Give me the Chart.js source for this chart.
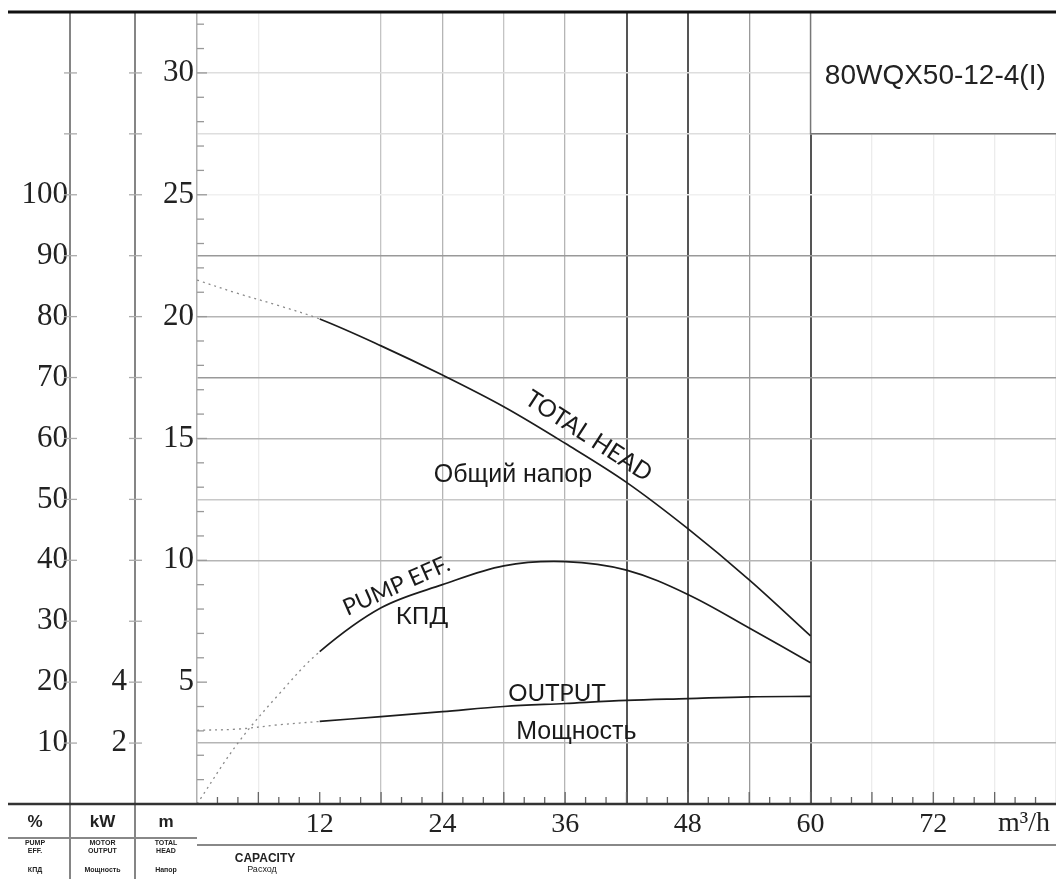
<!DOCTYPE html>
<html lang="ru">
<head>
    <meta charset="UTF-8">
    <title>80WQX50-12-4(I)</title>
    <style>
        body {
            margin: 0;
            padding: 0;
            background: #fff;
            overflow: hidden;
        }

        #wrap {
            width: 1056px;
            height: 879px;
        }
    </style>
</head>
<body>
    <div id="wrap"><canvas id="pumpChart" width="1056" height="879"></canvas></div>

    <script src="https://cdn.jsdelivr.net/npm/chart.js"></script>
    <script>
        // capacity, m3/h
        const flow = [0, 4, 8, 12, 18, 24, 30, 36, 42, 48, 54, 60];
        // total head, m
        const headM = [21.5, 20.95, 20.45, 19.9, 18.8, 17.6, 16.3, 14.8, 13.2, 11.3, 9.2, 6.9];
        // pump efficiency, %
        const effPct = [0, 10, 18, 25, 32.2, 36, 39.1, 39.8, 38.4, 34.4, 28.9, 23.2];
        // motor output, kW
        const powerKw = [2.42, 2.46, 2.6, 2.71, 2.87, 3.03, 3.2, 3.3, 3.4, 3.46, 3.52, 3.53];

        // tick labels that are printed
        const flowTicks = [12, 24, 36, 48, 60, 72];
        const headTicks = [5, 10, 15, 20, 25, 30];
        const effTicks = [10, 20, 30, 40, 50, 60, 70, 80, 90, 100];
        const kwTicks = [2, 4];

        const modelName = '80WQX50-12-4(I)';

        // curve captions (placed in flow / head units)
        const captions = [
            { text: 'TOTAL HEAD', q: 38.3, h: 15.1, rot: 33, font: '24px Lato' },
            { text: 'Общий напор', q: 30.9, h: 13.5, rot: 0, font: '25px "Liberation Sans"' },
            { text: 'PUMP EFF.', q: 19.5, h: 8.95, rot: -24, font: '23px Lato' },
            { text: 'КПД', q: 22, h: 7.7, rot: 0, font: '24px Lato' },
            { text: 'OUTPUT', q: 35.2, h: 4.55, rot: 0, font: '24px Lato' },
            { text: 'Мощность', q: 37.1, h: 2.95, rot: 0, font: '25px "Liberation Sans"' }
        ];

        const serif = 'Liberation Serif';
        const dottedUpTo = 12;

        function points(values) {
            return flow.map((q, i) => ({ x: q, y: values[i] }));
        }

        function curve(label, values, axis) {
            return {
                label: label,
                data: points(values),
                yAxisID: axis,
                borderColor: '#1c1c1c',
                borderWidth: 1.7,
                pointRadius: 0,
                tension: 0.35,
                segment: {
                    borderDash: c => c.p1.parsed.x <= dottedUpTo ? [2, 4] : undefined,
                    borderColor: c => c.p1.parsed.x <= dottedUpTo ? '#8a8a8a' : undefined,
                    borderWidth: c => c.p1.parsed.x <= dottedUpTo ? 1.3 : undefined
                }
            };
        }

        // grid shades read from the sheet
        function xGridColor(v) {
            if (v === 42 || v === 48 || v === 60) return '#555';
            if (v === 54) return '#999';
            if (v === 24 || v === 36) return '#b5b5b5';
            if (v === 18 || v === 30) return '#c4c4c4';
            if (v === 6 || v >= 66) return '#ececec';
            return 'rgba(0,0,0,0)';
        }

        function yGridColor(v) {
            if (v === 22.5 || v === 17.5) return '#999';
            if (v === 20 || v === 15 || v === 10 || v === 2.5) return '#b5b5b5';
            if (v === 12.5) return '#c8c8c8';
            if (v === 30 || v === 27.5) return '#dedede';
            if (v === 25) return '#f0f0f0';
            return 'rgba(0,0,0,0)';
        }

        function fixWidth(w) {
            return scale => {
                scale.width = w;
                scale.paddingTop = 0;
                scale.paddingBottom = 0;
            };
        }

        const sheetPlugin = {
            id: 'sheet',
            beforeDatasetsDraw(chart) {
                const { ctx, chartArea: a, scales } = chart;
                const x = scales.x, y = scales.yHead;
                // model box in the top right corner
                const left = x.getPixelForValue(60);
                const bottom = y.getPixelForValue(27.5);
                ctx.save();
                ctx.fillStyle = '#fff';
                ctx.fillRect(left, a.top, a.right - left, bottom - a.top);
                ctx.strokeStyle = '#777';
                ctx.lineWidth = 1.5;
                ctx.beginPath();
                ctx.moveTo(left, a.top);
                ctx.lineTo(left, bottom);
                ctx.lineTo(a.right, bottom);
                ctx.stroke();
                ctx.fillStyle = '#222';
                ctx.font = '28px "Liberation Sans"';
                ctx.textAlign = 'center';
                ctx.textBaseline = 'middle';
                ctx.fillText(modelName, (left + a.right) / 2 + 2, (a.top + bottom) / 2 + 3);
                ctx.restore();
            },
            afterDatasetsDraw(chart) {
                const { ctx, scales } = chart;
                ctx.save();
                ctx.fillStyle = '#1a1a1a';
                ctx.textAlign = 'center';
                ctx.textBaseline = 'middle';
                captions.forEach(c => {
                    ctx.save();
                    ctx.translate(scales.x.getPixelForValue(c.q), scales.yHead.getPixelForValue(c.h));
                    ctx.rotate(c.rot * Math.PI / 180);
                    ctx.font = c.font;
                    ctx.fillText(c.text, 0, 0);
                    ctx.restore();
                });
                ctx.restore();
            },
            afterDraw(chart) {
                const { ctx, chartArea: a, scales } = chart;
                const H = chart.height;
                const pctX = scales.yPct.right;
                const kwX = scales.yKw.right;
                ctx.save();

                // small ticks along the head axis
                ctx.strokeStyle = '#999';
                ctx.lineWidth = 1.3;
                for (let v = 1; v <= 32; v++) {
                    const py = scales.yHead.getPixelForValue(v);
                    ctx.beginPath();
                    ctx.moveTo(a.left, py);
                    ctx.lineTo(a.left + (v % 5 === 0 ? 10 : 7), py);
                    ctx.stroke();
                }
                // small ticks along the capacity axis
                ctx.strokeStyle = '#666';
                for (let v = 2; v < 84; v += 2) {
                    const px = scales.x.getPixelForValue(v);
                    ctx.beginPath();
                    ctx.moveTo(px, a.bottom);
                    ctx.lineTo(px, a.bottom - (v % 6 === 0 ? 12 : 7));
                    ctx.stroke();
                }

                // side columns for % and kW
                ctx.strokeStyle = '#858585';
                ctx.lineWidth = 2;
                [pctX, kwX].forEach(px => {
                    ctx.beginPath();
                    ctx.moveTo(px, a.top);
                    ctx.lineTo(px, H);
                    ctx.stroke();
                });
                ctx.strokeStyle = '#aaa';
                ctx.lineWidth = 1.3;
                scales.yPct.ticks.forEach(t => {
                    if (t.value === 0) return;
                    const py = scales.yPct.getPixelForValue(t.value);
                    [pctX, kwX].forEach(px => {
                        ctx.beginPath();
                        ctx.moveTo(px - 6, py);
                        ctx.lineTo(px + 7, py);
                        ctx.stroke();
                    });
                });

                // frame lines
                ctx.strokeStyle = '#111';
                ctx.lineWidth = 3;
                ctx.beginPath();
                ctx.moveTo(8, a.top);
                ctx.lineTo(a.right, a.top);
                ctx.stroke();
                ctx.strokeStyle = '#333';
                ctx.lineWidth = 2.5;
                ctx.beginPath();
                ctx.moveTo(8, a.bottom);
                ctx.lineTo(a.right, a.bottom);
                ctx.stroke();
                ctx.strokeStyle = '#888';
                ctx.lineWidth = 2;
                ctx.beginPath();
                ctx.moveTo(8, a.bottom + 34);
                ctx.lineTo(a.left, a.bottom + 34);
                ctx.moveTo(a.left, a.bottom + 41);
                ctx.lineTo(a.right, a.bottom + 41);
                ctx.stroke();

                // unit of capacity
                ctx.fillStyle = '#222';
                ctx.font = '28px "' + serif + '"';
                ctx.textBaseline = 'middle';
                ctx.textAlign = 'left';
                ctx.fillText('m³/h', 998, a.bottom + 20);

                // column headings
                ctx.textAlign = 'center';
                ctx.font = 'bold 17px "Liberation Sans"';
                ctx.fillText('%', pctX / 2, a.bottom + 18);
                ctx.fillText('kW', (pctX + kwX) / 2, a.bottom + 18);
                ctx.fillText('m', (kwX + a.left) / 2, a.bottom + 18);

                ctx.font = 'bold 7px "Liberation Sans"';
                const cols = [
                    [pctX / 2, 'PUMP', 'EFF.', 'КПД'],
                    [(pctX + kwX) / 2, 'MOTOR', 'OUTPUT', 'Мощность'],
                    [(kwX + a.left) / 2, 'TOTAL', 'HEAD', 'Напор']
                ];
                cols.forEach(c => {
                    ctx.fillText(c[1], c[0], a.bottom + 39);
                    ctx.fillText(c[2], c[0], a.bottom + 47);
                    ctx.fillText(c[3], c[0], a.bottom + 66);
                });
                ctx.font = 'bold 12px "Liberation Sans"';
                ctx.fillText('CAPACITY', 265, a.bottom + 55);
                ctx.font = '9px "Liberation Sans"';
                ctx.fillText('Расход', 262, a.bottom + 66);

                ctx.restore();
            }
        };

        const ctx = document.getElementById('pumpChart').getContext('2d');
        const pumpChart = new Chart(ctx, {
            type: 'line',
            data: {
                datasets: [
                    curve('TOTAL HEAD', headM, 'yHead'),
                    curve('PUMP EFF.', effPct, 'yPct'),
                    curve('OUTPUT', powerKw, 'yKw')
                ]
            },
            options: {
                responsive: false,
                animation: false,
                layout: { padding: { top: 12, left: 0, right: 0, bottom: 0 } },
                plugins: {
                    legend: { display: false },
                    tooltip: { enabled: false }
                },
                scales: {
                    x: {
                        type: 'linear',
                        min: 0,
                        max: 84,
                        ticks: {
                            stepSize: 6,
                            autoSkip: false,
                            maxRotation: 0,
                            padding: 4,
                            color: '#222',
                            font: { family: serif, size: 28 },
                            callback: v => flowTicks.includes(v) ? v : ''
                        },
                        grid: {
                            drawTicks: false,
                            color: c => xGridColor(c.tick.value),
                            lineWidth: c => [42, 48, 60].includes(c.tick.value) ? 2 : 1.3
                        },
                        border: { display: false },
                        afterFit: scale => {
                            scale.height = 75;
                            scale.paddingLeft = 0;
                            scale.paddingRight = 0;
                        }
                    },
                    yHead: {
                        position: 'left',
                        weight: 0,
                        min: 0,
                        max: 32.5,
                        ticks: {
                            stepSize: 2.5,
                            padding: 3,
                            color: '#222',
                            font: { family: serif, size: 31 },
                            callback: v => headTicks.includes(v) ? v : ''
                        },
                        grid: {
                            drawTicks: false,
                            color: c => yGridColor(c.tick.value),
                            lineWidth: 1.4
                        },
                        border: { display: true, color: '#b0b0b0', width: 1.5 },
                        afterFit: fixWidth(62)
                    },
                    yKw: {
                        position: 'left',
                        weight: 1,
                        min: 0,
                        max: 26,
                        ticks: {
                            stepSize: 2,
                            padding: 8,
                            color: '#222',
                            font: { family: serif, size: 31 },
                            callback: v => kwTicks.includes(v) ? v : ''
                        },
                        grid: { display: false, drawTicks: false },
                        border: { display: false },
                        afterFit: fixWidth(65)
                    },
                    yPct: {
                        position: 'left',
                        weight: 2,
                        min: 0,
                        max: 130,
                        ticks: {
                            stepSize: 10,
                            padding: 2,
                            color: '#222',
                            font: { family: serif, size: 31 },
                            callback: v => effTicks.includes(v) ? v : ''
                        },
                        grid: { display: false, drawTicks: false },
                        border: { display: false },
                        afterFit: fixWidth(70)
                    }
                }
            },
            plugins: [sheetPlugin]
        });
    </script>
</body>
</html>
